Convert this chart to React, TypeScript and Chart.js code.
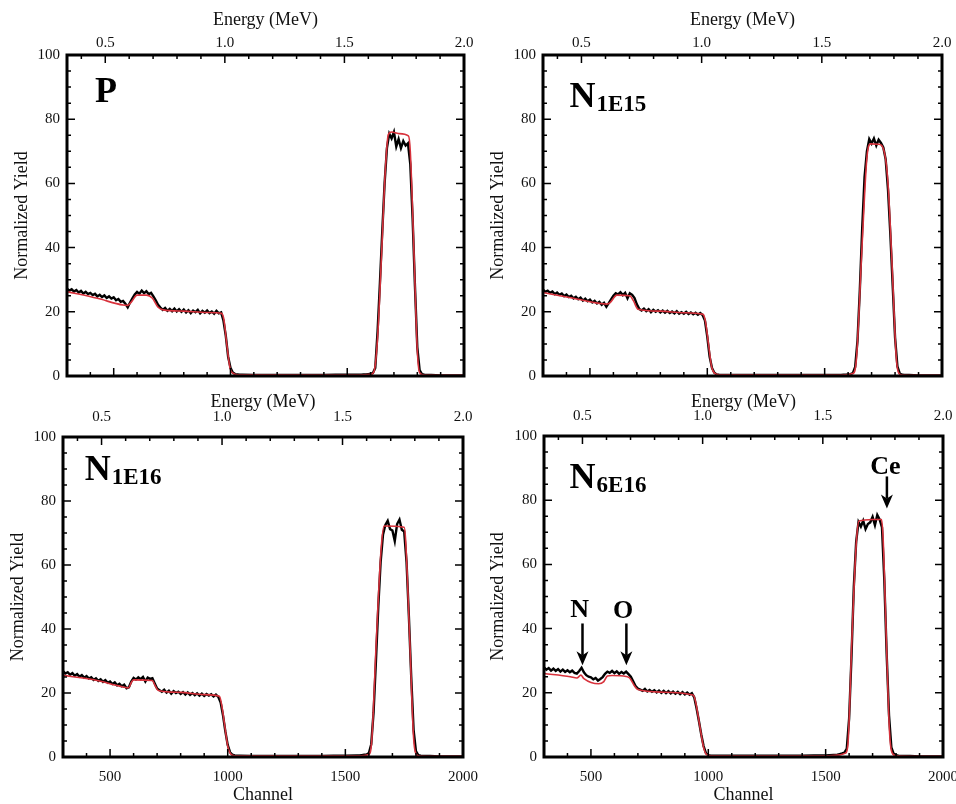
import React, { useEffect, useRef } from "react";
import { Chart, registerables } from "chart.js";

Chart.register(...registerables);

// ---------------- data ----------------
const CHANNEL = [
  300, 310, 320, 330, 340, 350, 360, 370, 380, 390,
  400, 410, 420, 430, 440, 450, 460, 470, 480, 490,
  500, 510, 520, 530, 540, 550, 560, 570, 580, 590,
  600, 610, 620, 630, 640, 650, 660, 670, 680, 690,
  700, 710, 720, 730, 740, 750, 760, 770, 780, 790,
  800, 810, 820, 830, 840, 850, 860, 870, 880, 890,
  900, 910, 920, 930, 940, 950, 960, 970, 980, 990,
  1000, 1010, 1020, 1030, 1040, 1050,
  1100, 1150, 1200, 1250, 1300, 1350, 1400, 1450, 1500, 1550,
  1560, 1570, 1580, 1590, 1600, 1610, 1620, 1630, 1640, 1650,
  1660, 1670, 1680, 1690, 1700, 1710, 1720, 1730, 1740, 1750,
  1760, 1770, 1780, 1790, 1800, 1810, 1820, 1830, 1840,
  1860, 1900, 1950, 2000,
];

// measured spectra (black)
const DATA_P = [
  27.2, 26.6, 27.0, 26.3, 26.8, 26.0, 26.5, 25.7, 26.2, 25.5,
  25.9, 25.2, 25.6, 24.8, 25.3, 24.6, 25.1, 24.3, 24.8, 24.1,
  24.5, 23.6, 24.0, 23.1, 23.4, 22.5, 21.4, 22.9, 24.2, 25.4,
  26.2, 25.6, 26.6, 25.8, 26.4, 25.5, 25.9, 24.8, 23.6, 22.2,
  21.3, 20.6, 21.2, 20.3, 20.9, 20.2, 21.0, 20.1, 20.8, 20.0,
  20.7, 19.8, 20.5, 19.6, 20.4, 19.9, 20.6, 19.5, 20.3, 19.7,
  20.4, 19.6, 20.1, 19.4, 20.3, 19.5, 19.8, 17.2, 12.5, 6.0,
  2.6, 1.1, 0.6, 0.5, 0.4, 0.4,
  0.3, 0.3, 0.3, 0.3, 0.3, 0.3, 0.3, 0.4, 0.4, 0.4,
  0.4, 0.5, 0.5, 0.6, 0.7, 0.9, 2.5, 14, 29, 45,
  60, 71, 75.5, 74.0, 76.0, 71.5, 73.8, 71.0, 73.2, 71.8,
  72.5, 66, 49, 28, 9, 1.8, 0.6, 0.4, 0.3,
  0.3, 0.2, 0.2, 0.2,
];
const DATA_N1E15 = [
  26.9, 26.2, 26.6, 25.9, 26.3, 25.5, 26.0, 25.3, 25.7, 24.9,
  25.4, 24.6, 25.0, 24.2, 24.7, 23.9, 24.4, 23.5, 24.1, 23.3,
  23.8, 22.9, 23.4, 22.6, 23.1, 22.2, 22.8, 21.6, 22.7, 23.9,
  25.0, 25.8, 25.4, 26.1, 25.2, 25.9, 24.2, 25.8, 25.3, 24.3,
  22.3, 20.9, 20.4, 21.0, 20.2, 20.8, 19.9, 20.6, 20.0, 20.5,
  19.8, 20.4, 19.7, 20.3, 19.6, 20.1, 19.5, 20.2, 19.4, 19.9,
  19.4, 20.0, 19.3, 19.8, 19.2, 19.7, 19.1, 19.6, 19.0, 17.3,
  12.2, 6.0, 2.5, 1.0, 0.5, 0.4,
  0.3, 0.3, 0.3, 0.3, 0.3, 0.3, 0.3, 0.3, 0.3, 0.3,
  0.3, 0.3, 0.4, 0.4, 0.5, 0.6, 0.9, 2.8, 11, 27,
  46, 62, 70, 73.8, 72.4, 74.0, 71.8, 73.6, 72.6, 71.2,
  67.5, 58, 44, 28, 12, 3, 0.8, 0.4, 0.3,
  0.3, 0.2, 0.2, 0.2,
];
const DATA_N1E16 = [
  26.8, 26.1, 26.5, 25.7, 26.2, 25.4, 25.9, 25.1, 25.6, 24.8,
  25.3, 24.5, 24.9, 24.1, 24.6, 23.8, 24.3, 23.5, 24.0, 23.2,
  23.6, 22.8, 23.3, 22.4, 22.9, 22.1, 22.6, 21.5, 21.8, 23.6,
  24.7, 24.2, 24.9, 24.3, 25.0, 23.6, 24.8, 24.4, 24.6, 23.0,
  21.4, 20.9, 20.4, 21.0, 20.1, 20.7, 19.8, 20.6, 20.0, 20.4,
  19.7, 20.3, 19.5, 20.2, 19.4, 20.0, 19.3, 19.9, 19.2, 19.8,
  19.1, 19.7, 19.2, 19.6, 18.9, 19.5, 18.8, 17.0, 13.0, 8.0,
  3.8, 1.5, 0.7, 0.5, 0.4, 0.4,
  0.3, 0.3, 0.3, 0.3, 0.3, 0.3, 0.3, 0.4, 0.4, 0.5,
  0.5, 0.6, 0.7, 0.8, 1.2, 4.0, 14, 30, 47, 61,
  69.5, 72.5, 73.8, 71.2, 70.8, 67.5, 72.8, 74.2, 71.0, 70.5,
  61, 44, 25, 8.5, 1.8, 0.6, 0.4, 0.3, 0.3,
  0.3, 0.2, 0.2, 0.2,
];
const DATA_N6E16 = [
  27.9, 27.2, 27.7, 26.9, 27.5, 26.8, 27.4, 26.6, 27.2, 26.5,
  27.0, 26.4, 26.9, 26.2, 26.0, 26.8, 27.8, 26.4, 25.5, 25.0,
  24.8, 24.2, 24.6, 23.8, 24.3, 24.9, 25.9, 26.6, 26.2, 26.8,
  26.1, 26.7, 25.9, 26.5, 26.0, 26.6, 25.8, 25.0, 23.6, 22.1,
  21.3, 21.0, 20.6, 21.2, 20.4, 20.9, 20.3, 20.8, 20.1, 20.7,
  20.0, 20.6, 19.9, 20.5, 19.8, 20.4, 19.7, 20.3, 19.6, 20.2,
  19.5, 20.1, 19.4, 19.9, 18.6, 15.2, 11.2, 7.0, 3.4, 1.2,
  0.6, 0.4, 0.4, 0.4, 0.4, 0.4,
  0.4, 0.4, 0.4, 0.4, 0.4, 0.4, 0.4, 0.5, 0.5, 0.7,
  0.9, 1.1, 1.4, 2.6, 12, 31, 53, 67, 73.2, 71.8,
  73.6, 71.0, 72.6, 73.1, 74.8, 72.2, 75.4, 74.0, 71.5, 55,
  32, 13, 3, 1.0, 0.6, 0.4, 0.3, 0.3, 0.3,
  0.3, 0.2, 0.2, 0.2,
];

// simulated fits (red)
const FIT_CH_P = [300, 430, 540, 560, 575, 600, 640, 665, 690, 712, 800, 900, 962, 972, 984, 998, 1012, 1030, 1550, 1600, 1615, 1630, 1647, 1663, 1676, 1690, 1720, 1762, 1770, 1786, 1800, 1810, 1830, 2000];
const FIT_P = [26.3, 24.2, 22.1, 22.0, 23.0, 25.2, 25.2, 24.3, 21.4, 20.6, 20.2, 19.8, 19.5, 17.5, 10.0, 2.5, 0.8, 0.4, 0.3, 0.5, 1.5, 12, 38, 64, 75.2, 76.0, 75.5, 74.8, 70, 38, 8, 1, 0.3, 0.2];

const FIT_CH_N1E15 = [300, 430, 572, 585, 615, 670, 685, 705, 800, 900, 982, 992, 1005, 1018, 1032, 1050, 1550, 1620, 1635, 1659, 1680, 1695, 1730, 1755, 1770, 1787, 1805, 1815, 1830, 2000];
const FIT_N1E15 = [26.0, 24.2, 22.4, 22.8, 25.2, 25.0, 23.5, 20.8, 20.2, 19.7, 19.2, 17.0, 10.0, 3.0, 0.8, 0.4, 0.3, 0.8, 5, 40, 68, 72.3, 72.2, 69.5, 60, 35, 6, 1, 0.3, 0.2];

const FIT_CH_N1E16 = [300, 427, 555, 578, 592, 600, 680, 690, 705, 800, 900, 965, 975, 987, 1000, 1012, 1030, 1550, 1600, 1612, 1632, 1652, 1665, 1750, 1756, 1773, 1790, 1800, 1815, 2000];
const FIT_N1E16 = [25.5, 24.2, 21.9, 21.6, 23.5, 24.1, 23.9, 22.5, 20.8, 20.2, 19.5, 19.0, 16.0, 10.0, 3.5, 1.0, 0.4, 0.4, 0.8, 5, 37, 65, 72.2, 71.8, 68, 38, 6, 1, 0.3, 0.2];

const FIT_CH_N6E16 = [300, 412, 440, 457, 470, 533, 555, 570, 590, 650, 665, 685, 700, 800, 935, 945, 963, 980, 992, 1010, 1500, 1540, 1585, 1595, 1612, 1630, 1642, 1700, 1738, 1745, 1758, 1772, 1782, 1800, 2000];
const FIT_N6E16 = [26.0, 25.0, 24.6, 25.5, 24.4, 22.8, 23.5, 25.2, 25.4, 25.1, 24.6, 22.2, 21.0, 20.2, 19.3, 17.5, 10.0, 3.0, 0.8, 0.4, 0.4, 0.5, 1.2, 4, 37, 66, 73.5, 74, 74, 68, 38, 8, 1.5, 0.4, 0.2];

// tick values
const CHANNEL_LABELS = [500, 1000, 1500, 2000];
const CHANNEL_MAJOR = [500, 1000, 1500];
const CHANNEL_MINOR = [400, 600, 700, 800, 900, 1100, 1200, 1300, 1400, 1600, 1700, 1800, 1900];
const ENERGY_LABELS = [0.5, 1.0, 1.5, 2.0];
const ENERGY_MAJOR = [0.5, 1.0, 1.5];
const ENERGY_MINOR = [0.4, 0.6, 0.7, 0.8, 0.9, 1.1, 1.2, 1.3, 1.4, 1.6, 1.7, 1.8, 1.9];
const YIELD_LABELS = [0, 20, 40, 60, 80, 100];
const YIELD_MAJOR = [20, 40, 60, 80];
const YIELD_MINOR = [5, 10, 15, 25, 30, 35, 45, 50, 55, 65, 70, 75, 85, 90, 95];
const ENERGY_MIN = 0.34;
const ENERGY_MAX = 2.0;

// panel labels
const LABEL_MAIN = ["P", "N", "N", "N"];
const LABEL_SUB = ["", "1E15", "1E16", "6E16"];
const LABEL_CH = [420, 413, 392, 409];
const LABEL_Y = [85.5, 83.9, 86.5, 83.7];

// annotations in the last panel
const NOTE_TEXT = ["N", "O", "Ce"];
const NOTE_CH = [452, 637, 1755];
const NOTE_Y = [43.5, 43.3, 88.3];
const ARROW_CH = [464, 651, 1761];
const ARROW_FROM = [41.6, 41.6, 87.4];
const ARROW_TO = [28.6, 28.6, 77.4];

// ---------------- layout / style ----------------
const FAMILY = '"Liberation Serif", "Times New Roman", serif';
const RED = "#d8323c";
const INK = "#111";

type Spec = {
  idx: number;
  left: number; top: number; w: number; h: number;
  L: number; T: number; B: number; R: number;
  showChannel: boolean;
  topTickPad: number; topTitlePad: number; yTitlePad: number;
  black: number[]; fitCh: number[]; fit: number[];
  notes: boolean;
};

const SPECS: Spec[] = [
  { idx: 0, left: 0, top: 0, w: 490, h: 390, L: 67, T: 55, B: 14, R: 26, showChannel: false, topTickPad: 3, topTitlePad: 9, yTitlePad: 11, black: DATA_P, fitCh: FIT_CH_P, fit: FIT_P, notes: false },
  { idx: 1, left: 476, top: 0, w: 480, h: 390, L: 67, T: 55, B: 14, R: 14, showChannel: false, topTickPad: 3, topTitlePad: 9, yTitlePad: 11, black: DATA_N1E15, fitCh: FIT_CH_N1E15, fit: FIT_N1E15, notes: false },
  { idx: 2, left: 0, top: 390, w: 490, h: 414, L: 63, T: 47, B: 47, R: 27, showChannel: true, topTickPad: 11, topTitlePad: 1, yTitlePad: 7, black: DATA_N1E16, fitCh: FIT_CH_N1E16, fit: FIT_N1E16, notes: false },
  { idx: 3, left: 476, top: 390, w: 480, h: 414, L: 68, T: 46, B: 47, R: 13, showChannel: true, topTickPad: 11, topTitlePad: 1, yTitlePad: 11, black: DATA_N6E16, fitCh: FIT_CH_N6E16, fit: FIT_N6E16, notes: true },
];

const pts = (xs: number[], ys: number[]) => xs.map((x, i) => ({ x, y: ys[i] }));

function makeDeco(spec: Spec) {
  return {
    id: "deco" + spec.idx,
    afterDatasetsDraw(chart: any) {
      const { ctx, chartArea: a, scales } = chart;
      const x = scales.x, xt = scales.xTop, y = scales.y;
      ctx.save();
      ctx.strokeStyle = "#000";
      ctx.lineWidth = 1.5;
      ctx.beginPath();
      const hx = (v: number, len: number) => {
        const p = x.getPixelForValue(v);
        ctx.moveTo(p, a.bottom); ctx.lineTo(p, a.bottom - len);
      };
      CHANNEL_MAJOR.forEach((v) => hx(v, 8));
      CHANNEL_MINOR.forEach((v) => hx(v, 4));
      const ht = (v: number, len: number) => {
        const p = xt.getPixelForValue(v);
        ctx.moveTo(p, a.top); ctx.lineTo(p, a.top + len);
      };
      ENERGY_MAJOR.forEach((v) => ht(v, 8));
      ENERGY_MINOR.forEach((v) => ht(v, 4));
      const vy = (v: number, len: number) => {
        const p = y.getPixelForValue(v);
        ctx.moveTo(a.left, p); ctx.lineTo(a.left + len, p);
        ctx.moveTo(a.right, p); ctx.lineTo(a.right - len, p);
      };
      YIELD_MAJOR.forEach((v) => vy(v, 8));
      YIELD_MINOR.forEach((v) => vy(v, 4));
      ctx.stroke();

      ctx.lineWidth = 3;
      ctx.strokeRect(a.left, a.top, a.right - a.left, a.bottom - a.top);

      // panel label
      const i = spec.idx;
      const lx = x.getPixelForValue(LABEL_CH[i]);
      const ly = y.getPixelForValue(LABEL_Y[i]);
      ctx.fillStyle = "#000";
      ctx.textAlign = "left";
      ctx.textBaseline = "alphabetic";
      ctx.font = `bold 36px ${FAMILY}`;
      ctx.fillText(LABEL_MAIN[i], lx, ly);
      if (LABEL_SUB[i]) {
        const w = ctx.measureText(LABEL_MAIN[i]).width;
        ctx.font = `bold 23px ${FAMILY}`;
        ctx.fillText(LABEL_SUB[i], lx + w + 1, ly + 4);
      }

      if (spec.notes) {
        ctx.font = `bold 26px ${FAMILY}`;
        ctx.textAlign = "center";
        NOTE_TEXT.forEach((t, k) => {
          ctx.fillText(t, x.getPixelForValue(NOTE_CH[k]), y.getPixelForValue(NOTE_Y[k]));
          const ax = x.getPixelForValue(ARROW_CH[k]);
          const y1 = y.getPixelForValue(ARROW_FROM[k]);
          const y2 = y.getPixelForValue(ARROW_TO[k]);
          ctx.lineWidth = 2.5;
          ctx.beginPath();
          ctx.moveTo(ax, y1);
          ctx.lineTo(ax, y2 - 10);
          ctx.stroke();
          ctx.beginPath();
          ctx.moveTo(ax, y2);
          ctx.lineTo(ax - 6, y2 - 14);
          ctx.lineTo(ax, y2 - 10);
          ctx.lineTo(ax + 6, y2 - 14);
          ctx.closePath();
          ctx.fill();
        });
      }
      ctx.restore();
    },
  };
}

function Panel({ spec }: { spec: Spec }) {
  const ref = useRef<HTMLCanvasElement | null>(null);
  useEffect(() => {
    if (!ref.current) return;
    const tickFont = { family: FAMILY, size: 15 };
    const titleFont = { family: FAMILY, size: 18 };
    const chart = new Chart(ref.current, {
      type: "line",
      data: {
        datasets: [
          {
            data: pts(spec.fitCh, spec.fit),
            borderColor: RED,
            borderWidth: 1.6,
            pointRadius: 0,
            cubicInterpolationMode: "monotone",
            fill: false,
          },
          {
            data: pts(CHANNEL, spec.black),
            borderColor: "#000",
            borderWidth: 2.4,
            pointRadius: 0,
            tension: 0,
            fill: false,
          },
        ],
      } as any,
      options: {
        animation: false,
        responsive: false,
        events: [],
        layout: { padding: { left: 0, top: 0, right: spec.R, bottom: 0 } },
        plugins: { legend: { display: false }, tooltip: { enabled: false } },
        scales: {
          x: {
            type: "linear",
            position: "bottom",
            min: 300,
            max: 2000,
            grid: { display: false, drawTicks: false },
            border: { display: false },
            ticks: { display: spec.showChannel, font: tickFont, color: INK, padding: 11, maxRotation: 0, autoSkip: false, callback: (v: any) => String(v) },
            afterBuildTicks: (s: any) => { s.ticks = CHANNEL_LABELS.map((v) => ({ value: v })); },
            afterFit: (s: any) => { s.height = spec.B; s.paddingLeft = 0; s.paddingRight = 0; },
            title: { display: spec.showChannel, text: "Channel", font: { ...titleFont, lineHeight: 1 }, color: INK, padding: { top: 0, bottom: 0 } },
          },
          xTop: {
            type: "linear",
            position: "top",
            min: ENERGY_MIN,
            max: ENERGY_MAX,
            grid: { display: false, drawTicks: false },
            border: { display: false },
            ticks: { font: tickFont, color: INK, padding: spec.topTickPad, maxRotation: 0, autoSkip: false, callback: (v: any) => Number(v).toFixed(1) },
            afterBuildTicks: (s: any) => { s.ticks = ENERGY_LABELS.map((v) => ({ value: v })); },
            afterFit: (s: any) => { s.height = spec.T; s.paddingLeft = 0; s.paddingRight = 0; },
            title: { display: true, text: "Energy (MeV)", font: titleFont, color: INK, padding: { top: spec.topTitlePad, bottom: 0 } },
          },
          y: {
            type: "linear",
            position: "left",
            min: 0,
            max: 100,
            grid: { display: false, drawTicks: false },
            border: { display: false },
            ticks: { font: tickFont, color: INK, padding: 7, autoSkip: false },
            afterBuildTicks: (s: any) => { s.ticks = YIELD_LABELS.map((v) => ({ value: v })); },
            afterFit: (s: any) => { s.width = spec.L; s.paddingTop = 0; s.paddingBottom = 0; },
            title: { display: true, text: "Normalized Yield", font: titleFont, color: INK, padding: { top: spec.yTitlePad, bottom: 0 } },
          },
        },
      } as any,
      plugins: [makeDeco(spec)],
    });
    return () => chart.destroy();
  }, [spec]);
  return (
    <canvas
      ref={ref}
      width={spec.w}
      height={spec.h}
      style={{ position: "absolute", left: spec.left, top: spec.top, width: spec.w, height: spec.h }}
    />
  );
}

export default function App() {
  return (
    <div style={{ position: "absolute", left: 0, top: 0, width: 956, height: 804, background: "#fff", overflow: "hidden" }}>
      {SPECS.map((s) => (
        <Panel key={s.idx} spec={s} />
      ))}
    </div>
  );
}
